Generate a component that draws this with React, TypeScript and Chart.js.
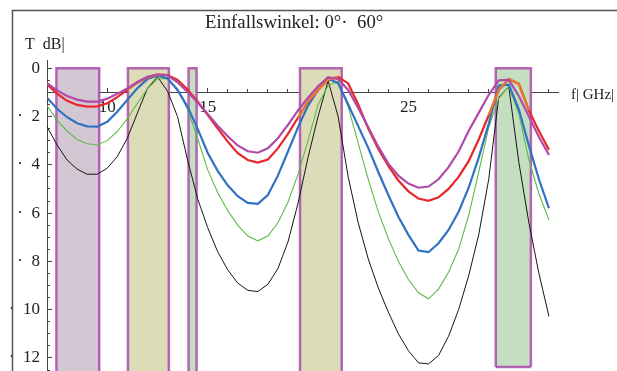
import { useEffect, useRef } from 'react';
import { Chart, registerables } from 'chart.js';

Chart.register(...registerables);

// Frequency grid [GHz]
const FREQ = [7, 7.5, 8, 8.5, 9, 9.5, 10, 10.5, 11, 11.5, 12, 12.5, 13, 13.5, 14, 14.5, 15, 15.5, 16, 16.5, 17, 17.5, 18, 18.5, 19, 19.5, 20, 20.5, 21, 21.5, 22, 22.5, 23, 23.5, 24, 24.5, 25, 25.5, 26, 26.5, 27, 27.5, 28, 28.5, 29, 29.5, 30, 30.5, 31, 31.5, 32];

// Transmission loss |T| in dB (plotted downward)
const MAGENTA = [0.62, 0.92, 1.15, 1.30, 1.38, 1.38, 1.26, 1.06, 0.84, 0.57, 0.36, 0.25, 0.30, 0.58, 0.98, 1.42, 1.90, 2.38, 2.82, 3.20, 3.44, 3.50, 3.32, 2.90, 2.35, 1.75, 1.22, 0.75, 0.37, 0.45, 0.90, 1.65, 2.45, 3.25, 3.95, 4.45, 4.78, 4.95, 4.90, 4.60, 4.10, 3.45, 2.60, 1.85, 1.10, 0.50, 0.48, 1.15, 2.00, 2.85, 3.59];
const RED = [0.66, 1.05, 1.35, 1.52, 1.59, 1.58, 1.45, 1.20, 0.90, 0.60, 0.38, 0.27, 0.28, 0.48, 0.88, 1.38, 1.93, 2.49, 3.04, 3.52, 3.80, 3.91, 3.78, 3.32, 2.72, 2.05, 1.38, 0.90, 0.48, 0.36, 0.63, 1.50, 2.50, 3.35, 4.05, 4.65, 5.10, 5.40, 5.49, 5.35, 5.00, 4.50, 3.85, 2.95, 1.95, 0.90, 0.45, 0.65, 1.75, 2.60, 3.38];
const ORANGE = [null, null, null, null, null, null, null, null, 0.90, 0.60, 0.38, 0.27, 0.28, null, null, null, null, null, null, null, null, null, null, null, null, 2.05, 1.38, 0.90, 0.48, 0.36, null, null, null, null, null, null, null, null, null, null, null, null, null, null, 1.95, 0.90, 0.45, 0.65, 1.75, null, null];
const BLUE = [1.22, 1.68, 2.03, 2.28, 2.41, 2.42, 2.22, 1.80, 1.31, 0.83, 0.45, 0.30, 0.42, 0.90, 1.60, 2.50, 3.50, 4.25, 4.85, 5.30, 5.58, 5.62, 5.25, 4.45, 3.45, 2.45, 1.55, 0.90, 0.44, 0.62, 1.50, 2.40, 3.30, 4.30, 5.25, 6.15, 6.90, 7.55, 7.62, 7.25, 6.70, 5.95, 4.95, 3.70, 2.30, 0.72, 0.68, 1.70, 3.20, 4.60, 5.80];
const GREEN = [1.55, 2.15, 2.60, 2.95, 3.13, 3.18, 3.00, 2.62, 2.10, 1.45, 0.85, 0.45, 0.42, 0.85, 1.70, 2.90, 4.20, 5.15, 5.90, 6.50, 6.95, 7.15, 6.95, 6.40, 5.55, 4.40, 3.00, 1.50, 0.72, 0.55, 1.60, 3.10, 4.60, 5.95, 7.05, 8.00, 8.75, 9.30, 9.55, 9.15, 8.45, 7.50, 6.10, 4.30, 2.45, 1.25, 0.75, 1.90, 3.80, 5.20, 6.28];
const BLACK = [2.42, 3.18, 3.80, 4.18, 4.39, 4.39, 4.14, 3.66, 2.90, 1.86, 0.84, 0.35, 0.95, 2.00, 3.80, 5.40, 6.60, 7.60, 8.35, 8.90, 9.20, 9.25, 8.95, 8.30, 7.20, 5.60, 3.70, 2.00, 0.52, 2.00, 4.50, 6.40, 7.90, 9.10, 10.10, 11.00, 11.70, 12.20, 12.25, 11.90, 11.10, 10.00, 8.60, 6.90, 4.60, 1.20, 0.77, 3.90, 6.40, 8.50, 10.28];

// Frequency bands (GHz)
const BAND_START = [7.47, 11.03, 14.05, 19.6, 29.35];
const BAND_END = [9.6, 13.07, 14.45, 21.68, 31.1];
const BAND_TOP = 0;
const BAND_BOTTOM = [13, 13, 13, 13, 12.37];
const BAND_FILL = ['#d4c7d4', '#dcdcb9', '#c4dec0', '#dcdcb9', '#c4dec0'];

// Ticks
const X_MAJOR = [10, 15, 20, 25, 30];
const X_MINOR = [8, 9, 10, 11, 12, 13, 14, 15, 16, 17, 18, 19, 20, 21, 22, 23, 24, 25, 26, 27, 28, 29, 30, 31, 32];
const Y_MAJOR = [0, 2, 4, 6, 8, 10, 12];
const Y_MINOR = [0.5, 1, 1.5, 2, 2.5, 3, 3.5, 4, 4.5, 5, 5.5, 6, 6.5, 7, 7.5, 8, 8.5, 9, 9.5, 10, 10.5, 11, 11.5, 12, 12.5];

const TITLE = 'Einfallswinkel: 0°·  60°';
const Y_LABEL = 'T  dB|';
const X_LABEL = 'f| GHz|';

const SERIF = '"Liberation Serif", "DejaVu Serif", serif';
const AXIS_COLOR = '#444';

const pts = (vals: (number | null)[]) => FREQ.map((f, i) => ({ x: f, y: vals[i] }));

const decor = {
  id: 'decor',
  afterDraw(chart: any) {
    const ctx = chart.ctx as CanvasRenderingContext2D;
    ctx.save();
    ctx.strokeStyle = '#555';
    ctx.lineWidth = 1.5;
    ctx.beginPath();
    ctx.moveTo(12.5, 371);
    ctx.lineTo(12.5, 10.5);
    ctx.lineTo(617, 10.5);
    ctx.stroke();
    ctx.fillStyle = '#222';
    ctx.textAlign = 'left';
    ctx.textBaseline = 'alphabetic';
    ctx.font = `18.8px ${SERIF}`;
    ctx.fillText(TITLE, 205, 28);
    ctx.font = `16px ${SERIF}`;
    ctx.fillText(Y_LABEL, 25, 49);
    ctx.font = `15px ${SERIF}`;
    ctx.fillText(X_LABEL, 571, 99);
    ctx.restore();
  },
};

export default function App() {
  const ref = useRef<HTMLCanvasElement>(null);
  useEffect(() => {
    document.body.style.margin = '0';
    const bandSets = BAND_START.map((s, i) => ({
      data: [
        { x: s, y: BAND_BOTTOM[i] },
        { x: s, y: BAND_TOP },
        { x: BAND_END[i], y: BAND_TOP },
        { x: BAND_END[i], y: BAND_BOTTOM[i] },
      ],
      borderColor: 'rgba(170, 75, 172, 0.85)',
      borderWidth: 2.5,
      backgroundColor: BAND_FILL[i],
      fill: { value: BAND_BOTTOM[i] },
      pointRadius: 0,
      tension: 0,
      order: 20,
    }));
    const bottomEdge = {
      data: [
        { x: BAND_START[4], y: BAND_BOTTOM[4] },
        { x: BAND_END[4], y: BAND_BOTTOM[4] },
      ],
      borderColor: 'rgba(170, 75, 172, 0.85)',
      borderWidth: 2.5,
      fill: false,
      pointRadius: 0,
      order: 19,
    };
    const curve = (vals: (number | null)[], color: string, width: number, order: number) => ({
      data: pts(vals),
      borderColor: color,
      borderWidth: width,
      fill: false,
      pointRadius: 0,
      tension: 0,
      order,
    });
    const chart = new Chart(ref.current!, {
      type: 'line',
      data: {
        datasets: [
          ...bandSets,
          bottomEdge,
          curve(BLACK, '#151515', 1, 6),
          curve(GREEN, '#5cbc48', 1.1, 5),
          curve(BLUE, '#2e72c2', 2.2, 4),
          curve(RED, '#e8262a', 2.2, 3),
          curve(ORANGE, '#e8782a', 2.2, 2),
          curve(MAGENTA, '#b04aa8', 2.2, 1),
        ] as any,
      },
      options: {
        animation: false,
        responsive: false,
        devicePixelRatio: 1,
        layout: { padding: { left: 0, right: 59, top: 60, bottom: 0 } },
        plugins: { legend: { display: false }, title: { display: false }, tooltip: { enabled: false } },
        scales: {
          x: {
            type: 'linear',
            axis: 'x',
            position: { y: 1 } as any,
            min: 7,
            max: 32.45,
            z: 1,
            afterBuildTicks: (s: any) => { s.ticks = X_MAJOR.map((v) => ({ value: v })); },
            afterFit: (s: any) => { s.paddingLeft = 0; s.paddingRight = 0; s.paddingTop = 0; s.paddingBottom = 0; },
            grid: { drawOnChartArea: false, drawTicks: true, tickLength: -5, color: AXIS_COLOR, tickColor: AXIS_COLOR },
            border: { display: true, color: AXIS_COLOR, width: 1 },
            ticks: { padding: 10, maxRotation: 0, autoSkip: false, color: '#222', font: { family: SERIF, size: 17 } },
          },
          xMinor: {
            type: 'linear',
            axis: 'x',
            position: { y: 1 } as any,
            min: 7,
            max: 32.45,
            z: 1,
            afterBuildTicks: (s: any) => { s.ticks = X_MINOR.map((v) => ({ value: v })); },
            afterFit: (s: any) => { s.paddingLeft = 0; s.paddingRight = 0; s.paddingTop = 0; s.paddingBottom = 0; },
            grid: { drawOnChartArea: false, drawTicks: true, tickLength: -3, color: AXIS_COLOR, tickColor: AXIS_COLOR },
            border: { display: false },
            ticks: { display: false },
          },
          y: {
            type: 'linear',
            axis: 'y',
            position: 'left',
            reverse: true,
            min: -0.34,
            max: 12.54,
            afterBuildTicks: (s: any) => { s.ticks = Y_MAJOR.map((v) => ({ value: v })); },
            afterFit: (s: any) => { s.width = 47; s.paddingTop = 0; s.paddingBottom = 0; s.paddingLeft = 0; s.paddingRight = 0; },
            grid: { drawOnChartArea: false, drawTicks: true, tickLength: -5, color: AXIS_COLOR, tickColor: AXIS_COLOR },
            border: { display: true, color: AXIS_COLOR, width: 1 },
            ticks: {
              padding: 12,
              color: '#222',
              font: { family: SERIF, size: 17 },
              callback: (v: any) => (Number(v) === 0 ? '0' : '·  ' + v),
            },
          },
          yMinor: {
            type: 'linear',
            axis: 'y',
            position: { x: 7 } as any,
            reverse: true,
            min: -0.34,
            max: 12.54,
            afterBuildTicks: (s: any) => { s.ticks = Y_MINOR.map((v) => ({ value: v })); },
            afterFit: (s: any) => { s.paddingTop = 0; s.paddingBottom = 0; s.paddingLeft = 0; s.paddingRight = 0; },
            grid: { drawOnChartArea: false, drawTicks: true, tickLength: -3, color: AXIS_COLOR, tickColor: AXIS_COLOR },
            border: { display: false },
            ticks: { display: false },
          },
        } as any,
      },
      plugins: [decor],
    });
    return () => chart.destroy();
  }, []);
  return <canvas ref={ref} width={617} height={371} style={{ display: 'block', width: 617, height: 371 }} />;
}
